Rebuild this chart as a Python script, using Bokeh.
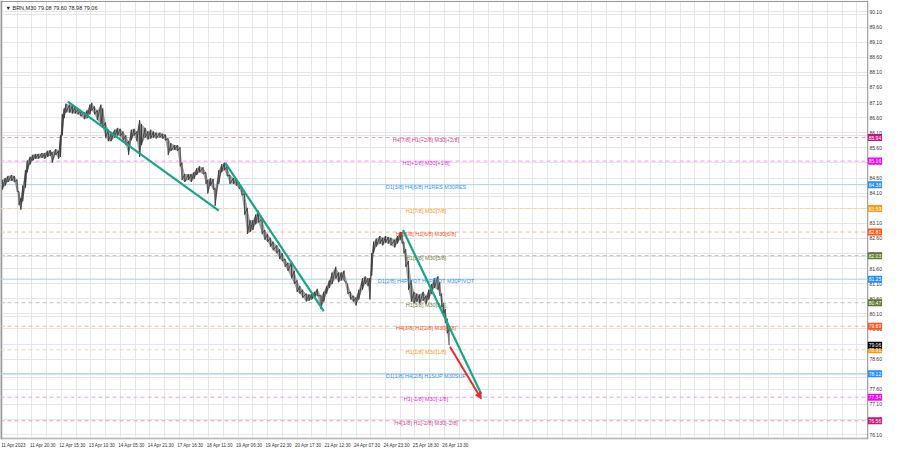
from bokeh.plotting import figure
from bokeh.models import (Range1d, FixedTicker, Label, Arrow, NormalHead,
                          ColumnDataSource, Grid)
from bokeh.core.properties import value
from bokeh.embed import file_html
from bokeh.resources import INLINE

# ---------------- data ----------------
BAR_IDX = [0, 3, 6, 10, 13, 16, 18, 20, 22, 25,
           27, 30, 33, 36, 39, 43, 46, 49, 52, 54,
           58, 61, 63, 65, 67, 69, 73, 76, 79, 82,
           85, 89, 92, 95, 97, 100, 103, 107, 109, 112,
           115, 118, 122, 125, 128, 131, 134, 137, 140, 143,
           146, 149, 151, 155, 158, 161, 164, 167, 171, 174,
           177, 180, 183, 187, 190, 193, 195, 198, 202, 205,
           208, 211, 214, 218, 221, 223, 226, 229, 231, 235,
           238, 241, 244, 247, 251, 254, 257, 260, 263, 266,
           269, 272, 275, 278, 282, 285, 288, 291, 294, 298,
           301, 304, 307, 310, 314, 317, 320, 323, 326, 330,
           333, 336, 339, 342, 346, 349, 352, 355, 358, 362,
           365, 368, 371, 375, 378, 381, 384, 387, 391, 394,
           397, 399, 401, 403, 406, 410, 413, 416, 419, 422,
           426, 429, 432, 434, 436, 438, 441, 444, 447, 450,
           453, 457, 460, 463, 466, 469, 473, 475, 477, 479,
           481, 483, 485]
BAR_HIGH = [84.54, 84.60, 84.67, 84.70, 84.67, 84.54, 84.15, 83.93, 84.35, 84.86,
            85.18, 85.30, 85.37, 85.40, 85.40, 85.43, 85.43, 85.50, 85.53, 85.46,
            85.56, 85.50, 86.01, 86.71, 86.90, 87.06, 87.03, 87.00, 86.97, 86.90,
            86.84, 86.77, 86.84, 87.03, 87.09, 86.97, 86.84, 87.03, 86.90, 86.45,
            86.20, 86.07, 86.20, 86.26, 86.23, 86.14, 86.01, 85.82, 86.20, 86.23,
            86.14, 86.52, 86.39, 86.26, 86.14, 86.20, 86.14, 86.10, 86.10, 86.07,
            86.04, 85.91, 85.75, 85.69, 85.69, 85.62, 85.11, 84.73, 84.73, 84.73,
            84.79, 84.92, 84.99, 84.95, 84.79, 84.54, 84.60, 84.57, 84.25, 84.86,
            85.05, 85.11, 84.99, 84.70, 84.60, 84.57, 84.47, 84.31, 84.09, 83.61,
            83.20, 83.20, 83.39, 83.52, 83.26, 82.88, 82.75, 82.62, 82.49, 82.37,
            82.24, 82.11, 81.92, 81.79, 81.79, 81.53, 81.21, 81.02, 80.90, 80.77,
            80.74, 80.77, 80.83, 80.93, 80.70, 80.83, 81.02, 81.21, 81.47, 81.66,
            81.47, 81.47, 81.53, 81.09, 80.83, 80.70, 80.64, 80.90, 81.28, 81.34,
            81.28, 81.28, 82.11, 82.49, 82.59, 82.68, 82.62, 82.68, 82.65, 82.62,
            82.56, 82.68, 82.81, 82.81, 82.49, 82.24, 81.85, 81.21, 80.83, 80.77,
            80.74, 80.83, 80.70, 80.90, 81.09, 81.28, 81.34, 81.15, 80.77, 80.45,
            80.26, 79.94, 79.62]
BAR_LOW = [84.22, 84.35, 84.47, 84.51, 84.47, 84.15, 83.71, 83.55, 83.83, 84.28,
           84.79, 85.05, 85.18, 85.24, 85.24, 85.27, 85.24, 85.30, 85.34, 85.11,
           85.37, 85.24, 85.30, 86.01, 86.58, 86.77, 86.77, 86.74, 86.74, 86.71,
           86.65, 86.55, 86.58, 86.71, 86.84, 86.71, 86.52, 86.39, 86.26, 85.94,
           85.82, 85.82, 85.94, 86.01, 85.98, 85.85, 85.69, 85.37, 85.85, 86.01,
           85.82, 85.30, 85.69, 85.94, 85.88, 85.91, 85.94, 85.91, 85.94, 85.91,
           85.85, 85.37, 85.50, 85.53, 85.50, 84.99, 84.54, 84.47, 84.54, 84.47,
           84.57, 84.70, 84.79, 84.73, 84.41, 84.09, 84.35, 84.22, 83.68, 84.41,
           84.79, 84.86, 84.67, 84.41, 84.41, 84.35, 84.25, 84.03, 83.39, 82.75,
           82.81, 82.88, 83.07, 83.13, 82.75, 82.56, 82.49, 82.33, 82.21, 82.11,
           81.92, 81.85, 81.66, 81.53, 81.28, 81.09, 80.83, 80.77, 80.64, 80.51,
           80.54, 80.58, 80.64, 80.70, 80.26, 80.51, 80.77, 80.96, 81.09, 81.28,
           81.15, 81.21, 81.21, 80.77, 80.58, 80.51, 80.38, 80.58, 80.90, 81.09,
           81.02, 80.58, 81.37, 82.11, 82.33, 82.43, 82.37, 82.46, 82.43, 82.37,
           82.30, 82.43, 82.56, 82.43, 82.11, 81.66, 80.90, 80.51, 80.45, 80.51,
           80.45, 80.54, 80.42, 80.58, 80.77, 80.96, 80.90, 80.70, 80.32, 80.06,
           79.81, 79.46, 79.06]

CURRENT_PRICE = 79.06
HEADER_TEXT = "\u25BC BRN,M30  79.08 79.60 78.98 79.06"

LEVEL_PRICES = [85.94, 85.16, 84.38, 83.59, 82.81, 82.03, 81.25,
                80.47, 79.69, 78.91, 78.12, 77.34, 76.56]
LEVEL_TEXTS = ["H4[7/8] H1[+2/8] M30[+2/8]", "H1[+1/8] M30[+1/8]",
               "D1[3/8] H4[6/8] H1RES M30RES", "H1[7/8] M30[7/8]",
               "H4[5/8] H1[6/8] M30[6/8]", "H1[5/8] M30[5/8]",
               "D1[2/8] H4PIVOT H1PIVOT M30PIVOT", "H1[3/8] M30[3/8]",
               "H4[3/8] H1[2/8] M30[2/8]", "H1[1/8] M30[1/8]",
               "D1[1/8] H4[2/8] H1SUP M30SUP", "H1[-1/8] M30[-1/8]",
               "H4[1/8] H1[-2/8] M30[-2/8]"]
LEVEL_KINDS = ["pink", "magenta", "blue", "orange", "orangered", "olive", "blue",
               "olive", "orangered", "orange", "blue", "magenta", "pink"]

TREND_X0 = [71, 242, 435]
TREND_Y0 = [87.13, 85.10, 82.88]
TREND_X1 = [235, 349, 520]
TREND_Y1 = [83.52, 80.19, 77.45]
ARROW_X = [486, 520]
ARROW_Y = [79.01, 77.29]

TIME_TICK_IDX = [0, 32, 64, 96, 128, 160, 192, 224, 256, 288, 320, 352, 384, 416, 448, 480]
TIME_LABELS = ["11 Apr 2023", "11 Apr 20:30", "12 Apr 15:30", "13 Apr 10:30",
               "14 Apr 05:30", "14 Apr 21:30", "17 Apr 16:30", "18 Apr 11:30",
               "19 Apr 06:30", "19 Apr 22:30", "20 Apr 17:30", "21 Apr 12:30",
               "24 Apr 07:30", "24 Apr 23:30", "25 Apr 18:30", "26 Apr 13:30"]
PRICE_TICKS = [76.10, 76.60, 77.10, 77.60, 78.10, 78.60, 79.10, 79.60, 80.10, 80.60,
               81.10, 81.60, 82.10, 82.60, 83.10, 83.60, 84.10, 84.60, 85.10, 85.60,
               86.10, 86.60, 87.10, 87.60, 88.10, 88.60, 89.10, 89.60, 90.10]

# ---------------- styling / layout ----------------
STYLE = {
    "pink":      dict(line="#eb9acb", text="#d6428f", box="#c8157e", dash="4 3"),
    "magenta":   dict(line="#f59cf5", text="#f020f0", box="#ff00ff", dash="4 3"),
    "blue":      dict(line="#a6cff5", text="#3a93e6", box="#1e90ff", dash="solid"),
    "orange":    dict(line="#f9d2a6", text="#f39a1e", box="#ff9a10", dash="4 3"),
    "orangered": dict(line="#f8b8a0", text="#f0541e", box="#ff5518", dash="4 3"),
    "olive":     dict(line="#c0c4b0", text="#6f8040", box="#5f7a30", dash="4 3"),
}
FONT = "Liberation Sans"
X_MIN, X_END = -2.1, 957.9      # whole window width (incl. price scale area)
X_BORDER = 939.7                # right border of the chart area
TICK_LABEL_X = 941.5
BOX_X, BOX_W = 947.5, 15.5
Y_MIN, Y_MAX = 75.94, 90.48
LABEL_X = 460
BORDER = "#8c8c8c"
GRIDC = "#e6e6e6"

p = figure(width=884, height=452, output_backend="svg", toolbar_location=None,
           x_range=Range1d(X_MIN, X_END), y_range=Range1d(Y_MIN, Y_MAX),
           y_axis_location=None, min_border_left=0, min_border_top=0,
           min_border_right=0, min_border_bottom=13)
p.background_fill_color = "white"
p.border_fill_color = "white"
p.outline_line_color = None

# time axis
TICK_SHIFT = 12
p.xaxis.ticker = FixedTicker(ticks=[t + TICK_SHIFT for t in TIME_TICK_IDX])
p.xaxis.major_label_overrides = {t + TICK_SHIFT: lab for t, lab in zip(TIME_TICK_IDX, TIME_LABELS)}
p.xaxis.major_label_text_font_size = "4.6px"
p.xaxis.major_label_text_font = FONT
p.xaxis.major_label_text_color = "#333333"
p.xaxis.axis_line_color = None
p.xaxis.major_tick_line_color = None
p.xaxis.minor_tick_line_color = None
p.xaxis.major_tick_out = 0
p.xaxis.major_tick_in = 0
p.xaxis.minor_tick_out = 0
p.xaxis.major_label_standoff = 3

p.xgrid.ticker = FixedTicker(ticks=list(range(0, int(X_BORDER), 16)))
p.xgrid.grid_line_color = GRIDC
p.add_layout(Grid(dimension=1, ticker=FixedTicker(ticks=PRICE_TICKS), grid_line_color=GRIDC))

# price scale area (white) and chart border
p.quad(left=[X_BORDER], right=[X_END], bottom=[Y_MIN], top=[Y_MAX],
       fill_color="white", line_color=None)
p.segment(x0=[X_MIN, X_MIN, X_BORDER], y0=[Y_MAX - 0.03, Y_MIN + 0.02, Y_MIN],
          x1=[X_BORDER, X_BORDER, X_BORDER], y1=[Y_MAX - 0.03, Y_MIN + 0.02, Y_MAX],
          line_color=BORDER, line_width=1)
p.segment(x0=[X_MIN + 0.6], y0=[Y_MIN], x1=[X_MIN + 0.6], y1=[Y_MAX], line_color="#9a9a9a", line_width=2)

# level lines
for price, kind in zip(LEVEL_PRICES, LEVEL_KINDS):
    st = STYLE[kind]
    p.segment(x0=[X_MIN], y0=[price], x1=[X_BORDER], y1=[price],
              line_color=st["line"], line_width=1, line_dash=st["dash"])

# price bars: band between lows and highs plus a jagged bar path
src = ColumnDataSource(dict(x=BAR_IDX, hi=BAR_HIGH, lo=BAR_LOW))
p.varea(x="x", y1="lo", y2="hi", source=src, fill_color="#a4a4a4")
zx, zy = [], []
for x, h, l in zip(BAR_IDX, BAR_HIGH, BAR_LOW):
    zx += [x, x]
    zy += [h, l]
p.line(zx, zy, line_color="#3a3a3a", line_width=0.9)

# level texts
lsrc = ColumnDataSource(dict(x=[LABEL_X] * len(LEVEL_PRICES), y=LEVEL_PRICES, t=LEVEL_TEXTS,
                             c=[STYLE[k]["text"] for k in LEVEL_KINDS]))
p.text(x="x", y="y", text="t", source=lsrc, text_color="c", text_font=value(FONT),
       text_font_size="5.5px", text_align="center", text_baseline="middle", y_offset=2)

# trend lines
p.segment(x0=TREND_X0, y0=TREND_Y0, x1=TREND_X1, y1=TREND_Y1,
          line_color="#17a589", line_width=2.2)
p.add_layout(Arrow(end=NormalHead(size=6, fill_color="#ee2a2a", line_color="#ee2a2a"),
                   x_start=ARROW_X[0], y_start=ARROW_Y[0], x_end=ARROW_X[1], y_end=ARROW_Y[1],
                   line_color="#ee2a2a", line_width=2))

# price scale labels
p.text(x=[TICK_LABEL_X] * len(PRICE_TICKS), y=PRICE_TICKS, text=["%.2f" % t for t in PRICE_TICKS],
       text_font=value(FONT), text_font_size="5px", text_color="#333333",
       text_align="left", text_baseline="middle")

# price boxes on the scale
box_prices = LEVEL_PRICES + [CURRENT_PRICE]
box_colors = [STYLE[k]["box"] for k in LEVEL_KINDS] + ["#000000"]
bsrc = ColumnDataSource(dict(x=[BOX_X] * len(box_prices), y=box_prices, c=box_colors,
                             t=["%.2f" % v for v in box_prices]))
p.rect(x="x", y="y", width=BOX_W, height=7, height_units="screen", source=bsrc,
       fill_color="c", line_color=None)
p.text(x="x", y="y", text="t", source=bsrc, text_font=value(FONT), text_font_size="5px",
       text_color="white", text_align="center", text_baseline="middle")

# header
p.add_layout(Label(x=X_MIN, y=Y_MAX, x_offset=5, y_offset=-4, text=HEADER_TEXT,
                   text_font=FONT, text_font_size="5.5px", text_color="#222222",
                   text_baseline="top", text_align="left"))

open("out.html", "w").write(file_html(p, INLINE))
